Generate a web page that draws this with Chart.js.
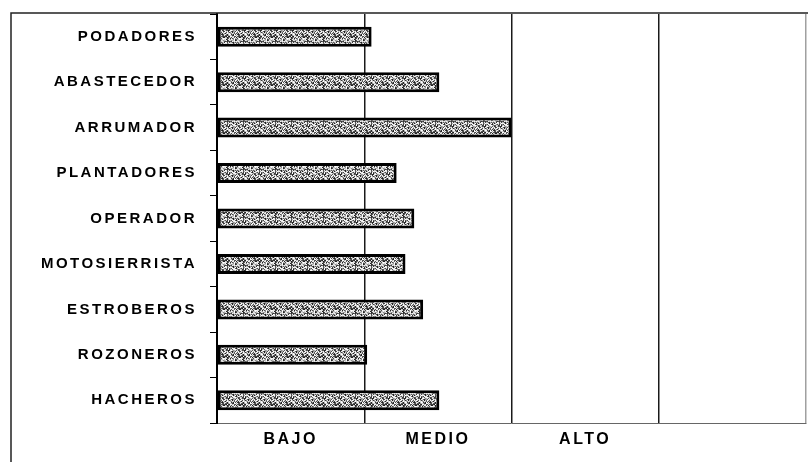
<!DOCTYPE html>
<html>
<head>
<meta charset="utf-8">
<script src="https://cdn.jsdelivr.net/npm/chart.js@4.4.0/dist/chart.umd.min.js"></script>
<style>
  html, body { margin: 0; padding: 0; background: #fff; }
</style>
</head>
<body>
<canvas id="puestos-chart" width="810" height="462"></canvas>
<script>
// Puestos de trabajo (de arriba hacia abajo)
const puestos = [
    "PODADORES",
    "ABASTECEDOR",
    "ARRUMADOR",
    "PLANTADORES",
    "OPERADOR",
    "MOTOSIERRISTA",
    "ESTROBEROS",
    "ROZONEROS",
    "HACHEROS"
];

// Nivel de cada puesto (0 a 4)
const niveles = [1.05, 1.51, 2.0, 1.22, 1.34, 1.28, 1.40, 1.02, 1.51];

// Etiquetas del eje x, centradas en cada franja
const posEtiquetas = [0.5, 1.5, 2.5];
const nombresEtiquetas = ["BAJO", "MEDIO", "ALTO"];

// Textura moteada (blanco / gris / negro) para las barras
function crearTextura() {
    const c = document.createElement("canvas");
    c.width = 16;
    c.height = 16;
    const g = c.getContext("2d");
    const tonos = ["#ffffff", "#5a5a5a", "#c8c8c8", "#202020", "#e8e8e8", "#8a8a8a", "#383838", "#adadad", "#f4f4f4", "#4a4a4a", "#d4d4d4"];
    for (let y = 0; y < 16; y++) {
        for (let x = 0; x < 16; x++) {
            const h = (x * 7 + y * 13 + x * y * 5 + (x ^ y) * 3) % tonos.length;
            g.fillStyle = tonos[h];
            g.fillRect(x, y, 1, 1);
        }
    }
    return g.createPattern(c, "repeat");
}

const canvas = document.getElementById("puestos-chart");
const textura = crearTextura();
const fuente = "'Liberation Sans', Arial, sans-serif";

// Marco exterior y espaciado de letras
const marcoPlugin = {
    id: "marco",
    beforeDraw(chart) {
        chart.ctx.letterSpacing = "2.5px";
    },
    afterDraw(chart) {
        const ctx = chart.ctx;
        ctx.save();
        ctx.strokeStyle = "#222";
        ctx.lineWidth = 1.5;
        ctx.beginPath();
        ctx.moveTo(11, 462);
        ctx.lineTo(11, 13);
        ctx.lineTo(808, 13);
        ctx.stroke();
        ctx.restore();
    }
};

new Chart(canvas, {
    type: "bar",
    data: {
        labels: puestos,
        datasets: [{
            data: niveles,
            backgroundColor: textura,
            borderColor: "#000",
            borderWidth: 3,
            borderSkipped: false,
            barPercentage: 0.44,
            categoryPercentage: 1
        }]
    },
    options: {
        indexAxis: "y",
        responsive: false,
        animation: false,
        layout: {
            padding: { top: 14, right: 4, left: 0, bottom: 0 }
        },
        plugins: {
            legend: { display: false },
            tooltip: { enabled: false }
        },
        scales: {
            x: {
                min: 0,
                max: 4,
                afterBuildTicks: (scale) => {
                    const t = [];
                    for (let v = 0; v <= 8; v++) t.push({ value: v / 2 });
                    scale.ticks = t;
                },
                afterFit: (scale) => {
                    scale.height = 39;
                    scale.paddingLeft = 0;
                    scale.paddingRight = 0;
                },
                ticks: {
                    autoSkip: false,
                    maxRotation: 0,
                    padding: 7,
                    color: "#000",
                    font: { family: fuente, size: 16, weight: "bold" },
                    callback: (v) => {
                        const i = posEtiquetas.indexOf(v);
                        return i >= 0 ? nombresEtiquetas[i] : "";
                    }
                },
                grid: {
                    drawTicks: false,
                    lineWidth: 1.5,
                    color: (ctx) => {
                        const v = ctx.tick.value;
                        if (v % 1 !== 0 || v === 0) return "rgba(0,0,0,0)";
                        return v === 4 ? "#a0a0a0" : "#1a1a1a";
                    }
                },
                border: { display: true, color: "#666", width: 1 }
            },
            y: {
                afterFit: (scale) => {
                    scale.width = 217;
                    scale.paddingTop = 0;
                    scale.paddingBottom = 0;
                },
                ticks: {
                    padding: 13,
                    color: "#000",
                    font: { family: fuente, size: 15, weight: "bold" }
                },
                grid: {
                    drawOnChartArea: false,
                    drawTicks: true,
                    tickLength: 7,
                    color: "#000",
                    lineWidth: 1
                },
                border: { display: true, color: "#000", width: 2 }
            }
        }
    },
    plugins: [marcoPlugin]
});
</script>
</body>
</html>
